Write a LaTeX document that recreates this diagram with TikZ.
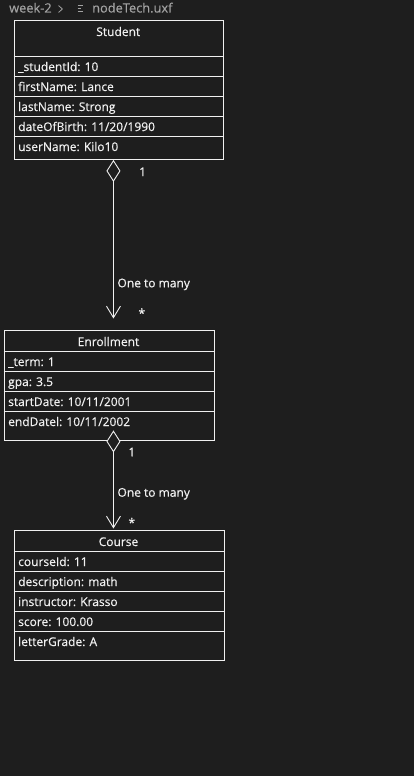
\documentclass[tikz,border=0pt]{standalone}
\usepackage{fontspec}
\setmainfont{Open Sans}
\newfontfamily\umlfont[FakeBold=0.45]{Open Sans}
\newfontfamily\crumbfont[FakeBold=0.3]{Open Sans}
\usetikzlibrary{arrows.meta}
\definecolor{canvas}{HTML}{1E1E1E}
\definecolor{ink}{HTML}{F0F0F0}
\definecolor{crumb}{HTML}{A3A3A3}
\tikzset{
  umlbox/.style={draw=ink, line width=0.9pt, rectangle, anchor=north west, inner sep=0pt},
  sepline/.style={draw=ink, line width=0.9pt},
  boxtitle/.style={text=ink, anchor=base, inner sep=0pt, font=\umlfont\fontsize{12}{14}\selectfont},
  field/.style={text=ink, anchor=base west, inner sep=0pt, font=\umlfont\fontsize{12}{14}\selectfont},
  lbl/.style={text=ink, inner sep=0pt, font=\umlfont\fontsize{12}{14}\selectfont},
  crumbtext/.style={text=crumb, anchor=base west, inner sep=0pt, font=\crumbfont\fontsize{12.8}{14}\selectfont},
  aggregation/.style={draw=ink, line width=0.9pt,
    {Diamond[length=22pt, width=14pt, fill=canvas]}-{Straight Barb[length=11.5pt, width=14pt]}}
}
\begin{document}
\begin{tikzpicture}[x=1pt, y=-1pt]
  \fill[canvas] (0,0) rectangle (414,776);
  \useasboundingbox (0,0) rectangle (414,776);

  % breadcrumb bar
  \node[crumbtext] (crumbfolder) at (9,12.5) {week-2};
  \draw[crumb, line width=0.8pt, line cap=round, line join=round] (58.6,5.6) -- (62.4,9) -- (58.6,12.4);
  \draw[crumb, line width=1pt] (77.6,5.8) -- (83.2,5.8) (77.6,8.8) -- (81.4,8.8) (77.6,11.8) -- (83.2,11.8);
  \node[crumbtext] (crumbfile) at (92,12.5) {nodeTech.uxf};

  % Student class
  \node[umlbox, minimum width=209.5pt, minimum height=139pt] (student) at (13.5,20) {};
  \node[boxtitle] (studenttitle) at (118.25,36) {Student};
  \foreach \dy in {36.5,56.5,76.5,96.5,116.5}
    \draw[sepline] (student.north west) ++(0,\dy) -- ++(209.5,0);
  \node[field] (sid) at (18,71) {\_studentId: 10};
  \node[field] (sfirst) at (18,91) {firstName: Lance};
  \node[field] (slast) at (18,111) {lastName: Strong};
  \node[field] (sdob) at (18,131) {dateOfBirth: 11/20/1990};
  \node[field] (suser) at (18,151) {userName: Kilo10};

  % Enrollment class
  \node[umlbox, minimum width=210pt, minimum height=110pt] (enroll) at (3.5,329.5) {};
  \node[boxtitle] (enrolltitle) at (108.5,346) {Enrollment};
  \foreach \dy in {22,42,62,82}
    \draw[sepline] (enroll.north west) ++(0,\dy) -- ++(210,0);
  \node[field] (eterm) at (8,366) {\_term: 1};
  \node[field] (egpa) at (8,386) {gpa: 3.5};
  \node[field] (estart) at (8,406) {startDate: 10/11/2001};
  \node[field] (eend) at (8,426) {endDatel: 10/11/2002};

  % Course class
  \node[umlbox, minimum width=210pt, minimum height=130pt] (course) at (13.5,529.5) {};
  \node[boxtitle] (coursetitle) at (118.5,546) {Course};
  \foreach \dy in {22,42,62,82,102}
    \draw[sepline] (course.north west) ++(0,\dy) -- ++(210,0);
  \node[field] (cid) at (18,566) {courseId: 11};
  \node[field] (cdesc) at (18,586) {description: math};
  \node[field] (cinst) at (18,606) {instructor: Krasso};
  \node[field] (cscore) at (18,626) {score: 100.00};
  \node[field] (cgrade) at (18,646) {letterGrade: A};

  % Student -> Enrollment
  \draw[aggregation] ([xshift=-5.25pt]student.south) -- ([xshift=4.5pt, yshift=11pt]enroll.north);
  \node[lbl, anchor=north west] (m1a) at (139,167.3) {1};
  \node[lbl, anchor=base west] (r1) at (117.3,287.3) {One to many};
  \node[lbl, anchor=north] (m1b) at (141.8,308.3) {*};

  % Enrollment -> Course
  \draw[aggregation] ([xshift=4.5pt, yshift=10pt]enroll.south) -- ([xshift=-5.5pt, yshift=1pt]course.north);
  \node[lbl, anchor=north west] (m2a) at (128.3,447.5) {1};
  \node[lbl, anchor=base west] (r2) at (117.3,496.7) {One to many};
  \node[lbl, anchor=north] (m2b) at (131.8,517.7) {*};
\end{tikzpicture}
\end{document}
